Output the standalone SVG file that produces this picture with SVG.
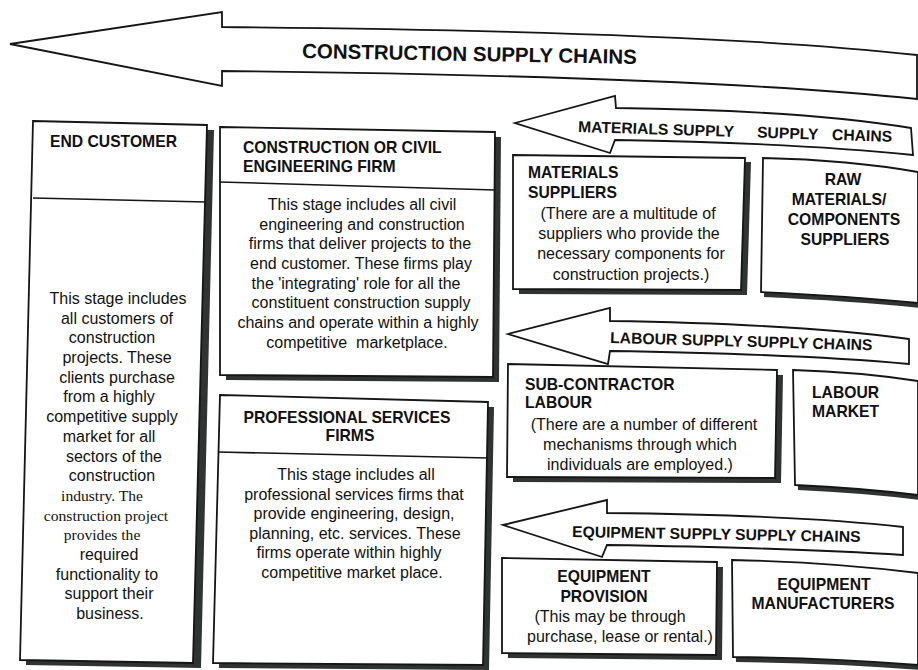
<svg xmlns="http://www.w3.org/2000/svg" width="918" height="670" viewBox="0 0 918 670">
<style>
.box{fill:#fff;stroke:#151515;stroke-width:1.8;stroke-linejoin:miter}
.sh{fill:#2f3331}
.ar{fill:#fff;stroke:#151515;stroke-width:1.8;stroke-linejoin:miter}
.div{stroke:#151515;stroke-width:1.6;fill:none}
.h{font-family:"Liberation Sans",Arial,sans-serif;font-weight:bold;font-size:15.7px;fill:#111}
.t{font-family:"Liberation Sans",Arial,sans-serif;font-weight:bold;font-size:20.5px;fill:#111}
.b{font-family:"Liberation Sans",Arial,sans-serif;font-size:16px;fill:#111}
.s{font-family:"Liberation Serif","Times New Roman",serif;font-size:15.6px;fill:#111}
.c{text-anchor:middle}
</style>
<rect width="918" height="670" fill="#fff"/>

<g id="connectors">
  <g id="arrow-construction">
    <path class="ar" d="M10,44 L222,12 L222,27 Q700,31 917,55 L917,99 Q700,76 222,71 L222,86 Z"/>
    <text class="t" x="302" y="61" transform="rotate(1 470 55)">CONSTRUCTION SUPPLY CHAINS</text>
  </g>
  <g id="arrow-materials">
    <path class="ar" d="M515,123 L615,96 L616,108 Q800,110 911,128 L913,155 Q800,143 615,140 L610,153 Z"/>
    <text class="h" y="132" transform="rotate(1.8 578 132)"><tspan x="578">MATERIALS SUPPLY</tspan><tspan x="757">SUPPLY</tspan><tspan x="832">CHAINS</tspan></text>
  </g>
  <g id="arrow-labour">
    <path class="ar" d="M508,334 L610,308 L610,321 Q800,324 909,339 L909,364 Q800,354 610,351 L608,364 Z"/>
    <text class="h" x="610" y="343" transform="rotate(1.6 610 343)">LABOUR SUPPLY SUPPLY CHAINS</text>
  </g>
  <g id="arrow-equipment">
    <path class="ar" d="M503,525 L607,500 L607,513 Q800,515 903,527 L903,555 Q800,548 607,545 L602,557 Z"/>
    <text class="h" x="572" y="537" transform="rotate(1 572 537)">EQUIPMENT SUPPLY SUPPLY CHAINS</text>
  </g>
</g>

<g id="end-customer">
  <polygon class="sh" points="39,126 214,130 201,668 26,665"/>
  <polygon class="box" points="33,121 207,125 193,663 20,660"/>
  <line class="div" x1="33" y1="198" x2="206" y2="202"/>
  <text class="h" x="50" y="147">END CUSTOMER</text>
  <text class="b c" x="118" y="304">This stage includes</text>
  <text class="b c" x="117" y="324">all customers of</text>
  <text class="b c" x="112" y="343">construction</text>
  <text class="b c" x="117" y="363">projects. These</text>
  <text class="b c" x="117" y="383">clients purchase</text>
  <text class="b c" x="109" y="402">from a highly</text>
  <text class="b c" x="112" y="422">competitive supply</text>
  <text class="b c" x="109" y="442">market for all</text>
  <text class="b c" x="114" y="462">sectors of the</text>
  <text class="b c" x="112" y="481">construction</text>
  <text class="s c" x="102" y="501">industry. The</text>
  <text class="s c" x="106" y="521">construction project</text>
  <text class="s c" x="102" y="540">provides the</text>
  <text class="b c" x="109" y="560">required</text>
  <text class="b c" x="107" y="580">functionality to</text>
  <text class="b c" x="109" y="599">support their</text>
  <text class="b c" x="110" y="619">business.</text>
</g>

<g id="construction-firm">
  <polygon class="sh" points="226,132 501,137 499,382 226,380"/>
  <polygon class="box" points="220,127 495,132 493,377 220,375"/>
  <line class="div" x1="220" y1="182" x2="495" y2="190"/>
  <text class="h" x="243" y="153">CONSTRUCTION OR CIVIL</text>
  <text class="h" x="243" y="172">ENGINEERING FIRM</text>
  <text class="b c" x="362" y="210">This stage includes all civil</text>
  <text class="b c" x="362" y="230">engineering and construction</text>
  <text class="b c" x="360" y="249">firms that deliver projects to the</text>
  <text class="b c" x="361" y="269">end customer. These firms play</text>
  <text class="b c" x="356" y="289">the 'integrating' role for all the</text>
  <text class="b c" x="361" y="308">constituent construction supply</text>
  <text class="b c" x="358" y="328">chains and operate within a highly</text>
  <text class="b c" x="357" y="348" xml:space="preserve">competitive  marketplace.</text>
</g>

<g id="professional-services">
  <polygon class="sh" points="226,400 494,407 489,670 219,668"/>
  <polygon class="box" points="220,395 488,402 483,665 213,663"/>
  <line class="div" x1="218" y1="452" x2="488" y2="458"/>
  <text class="h c" x="347" y="423">PROFESSIONAL SERVICES</text>
  <text class="h c" x="350" y="441">FIRMS</text>
  <text class="b c" x="356" y="480">This stage includes all</text>
  <text class="b c" x="354" y="500">professional services firms that</text>
  <text class="b c" x="354" y="519">provide engineering, design,</text>
  <text class="b c" x="355" y="539">planning, etc. services. These</text>
  <text class="b c" x="349" y="558">firms operate within highly</text>
  <text class="b c" x="352" y="578">competitive market place.</text>
</g>

<g id="materials-suppliers">
  <polygon class="sh" points="519,159 751,162 747,295 519,294"/>
  <polygon class="box" points="513,155 745,158 741,290 513,289"/>
  <text class="h" x="528" y="178">MATERIALS</text>
  <text class="h" x="528" y="198">SUPPLIERS</text>
  <text class="b c" x="628" y="219">(There are a multitude of</text>
  <text class="b c" x="629" y="239">suppliers who provide the</text>
  <text class="b c" x="631" y="259">necessary components for</text>
  <text class="b c" x="631" y="280">construction projects.)</text>
</g>

<g id="raw-materials">
  <path class="sh" d="M766,163 Q853,165 921,177 L921,308 Q853,301 764,297 Z"/>
  <path class="box" d="M763,158 Q850,160 918,172 L918,303 Q850,296 761,292 Z"/>
  <text class="h c" x="843" y="185">RAW</text>
  <text class="h c" x="839" y="205">MATERIALS/</text>
  <text class="h c" x="844" y="225">COMPONENTS</text>
  <text class="h c" x="845" y="245">SUPPLIERS</text>
</g>

<g id="sub-contractor">
  <polygon class="sh" points="514,369 783,375 781,483 513,482"/>
  <polygon class="box" points="508,364 777,370 775,478 507,477"/>
  <text class="h" x="525" y="390">SUB-CONTRACTOR</text>
  <text class="h" x="525" y="408">LABOUR</text>
  <text class="b c" x="644" y="430">(There are a number of different</text>
  <text class="b c" x="640" y="450">mechanisms through which</text>
  <text class="b c" x="640" y="470">individuals are employed.)</text>
</g>

<g id="labour-market">
  <path class="sh" d="M796,375 Q863,377 921,386 L921,500 Q863,493 798,490 Z"/>
  <path class="box" d="M793,370 Q860,372 918,381 L918,495 Q860,488 795,485 Z"/>
  <text class="h" x="812" y="398">LABOUR</text>
  <text class="h" x="812" y="417">MARKET</text>
</g>

<g id="equipment-provision">
  <polygon class="sh" points="508,563 723,567 722,660 508,658"/>
  <polygon class="box" points="502,558 717,562 716,655 502,653"/>
  <text class="h c" x="604" y="582">EQUIPMENT</text>
  <text class="h c" x="604" y="602">PROVISION</text>
  <text class="b c" x="610" y="622">(This may be through</text>
  <text class="b c" x="620" y="642">purchase, lease or rental.)</text>
</g>

<g id="equipment-manufacturers">
  <path class="sh" d="M735,565 Q833,567 921,578 L921,670 Q833,663 736,662 Z"/>
  <path class="box" d="M732,560 Q830,562 918,573 L918,665 Q830,658 733,657 Z"/>
  <text class="h c" x="824" y="590">EQUIPMENT</text>
  <text class="h c" x="823" y="609">MANUFACTURERS</text>
</g>
</svg>
